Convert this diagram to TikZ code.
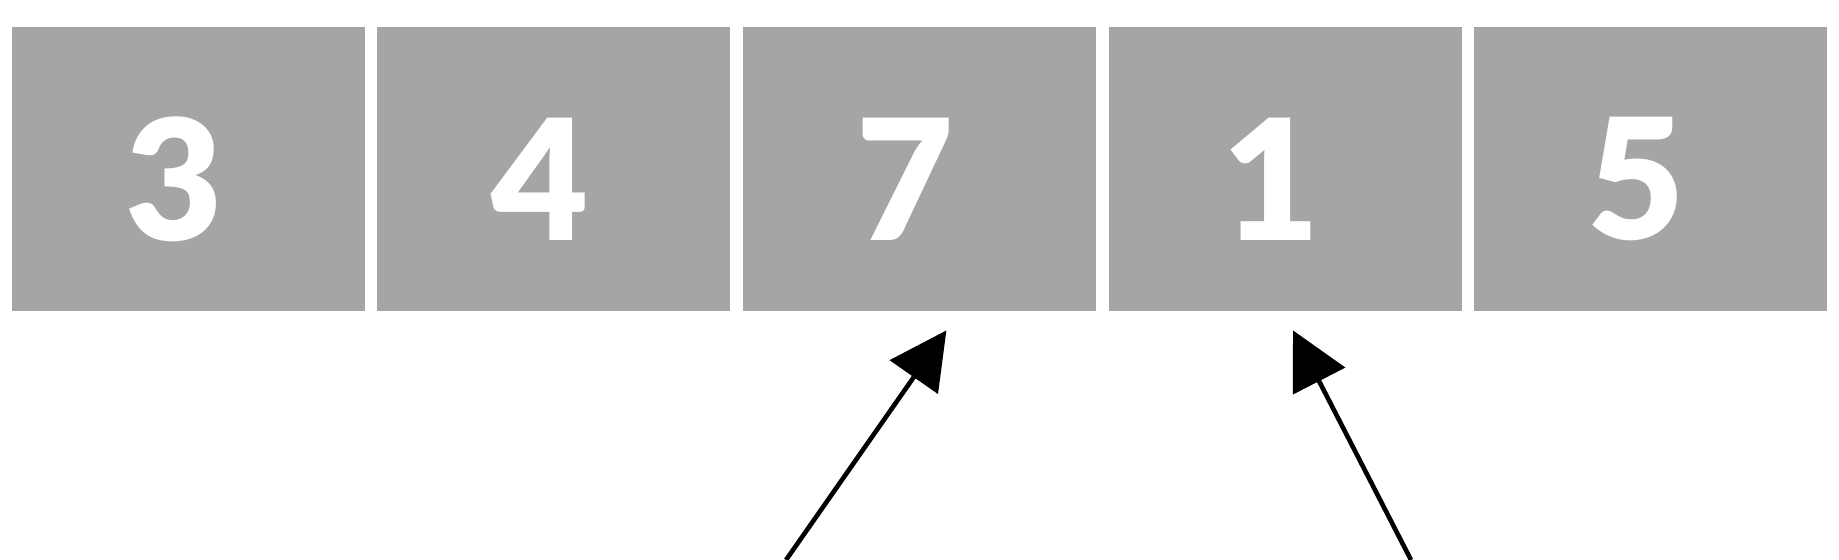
\documentclass[tikz,border=0pt]{standalone}
\usepackage{fontspec}
\newfontfamily\digitfont{Lato Black}
\usetikzlibrary{arrows.meta,calc}
\definecolor{boxgray}{RGB}{165,165,165}
\tikzset{
  cell/.style={draw=none, fill=boxgray, minimum width=176.5pt, minimum height=142pt, inner sep=0pt, anchor=center},
  digit/.style={text=white, font=\digitfont\fontsize{84pt}{90pt}\selectfont, inner sep=0pt, anchor=center},
  pointer/.style={line width=2.3pt, -{Triangle[length=28.5pt, width=29pt]}}
}
\begin{document}
\begin{tikzpicture}[x=0.5pt, y=-0.5pt]
\useasboundingbox (0,0) rectangle (1839,560);
\fill[white] (0,0) rectangle (1839,560);
\node[cell] (b1) at (188.2,169) {};
\node[cell] (b2) at (553.8,169) {};
\node[cell] (b3) at (919.4,169) {};
\node[cell] (b4) at (1285.0,169) {};
\node[cell] (b5) at (1650.6,169) {};
\node[digit] (d1) at ($(b1.center)+(-14,10)$) {3};
\node[digit] (d2) at ($(b2.center)+(-14,10)$) {4};
\node[digit] (d3) at ($(b3.center)+(-14,10)$) {7};
\node[digit] (d4) at ($(b4.center)+(-14,10)$) {1};
\node[digit] (d5) at ($(b5.center)+(-14,10)$) {5};
\coordinate (t1) at ($(b3.south)+(27,19)$);
\coordinate (t2) at ($(b4.south)+(8,19)$);
\coordinate (s1) at (786,560);
\coordinate (s2) at (1411,560);
\draw[pointer] (s1) -- (t1);
\draw[pointer] (s2) -- (t2);
\end{tikzpicture}
\end{document}
